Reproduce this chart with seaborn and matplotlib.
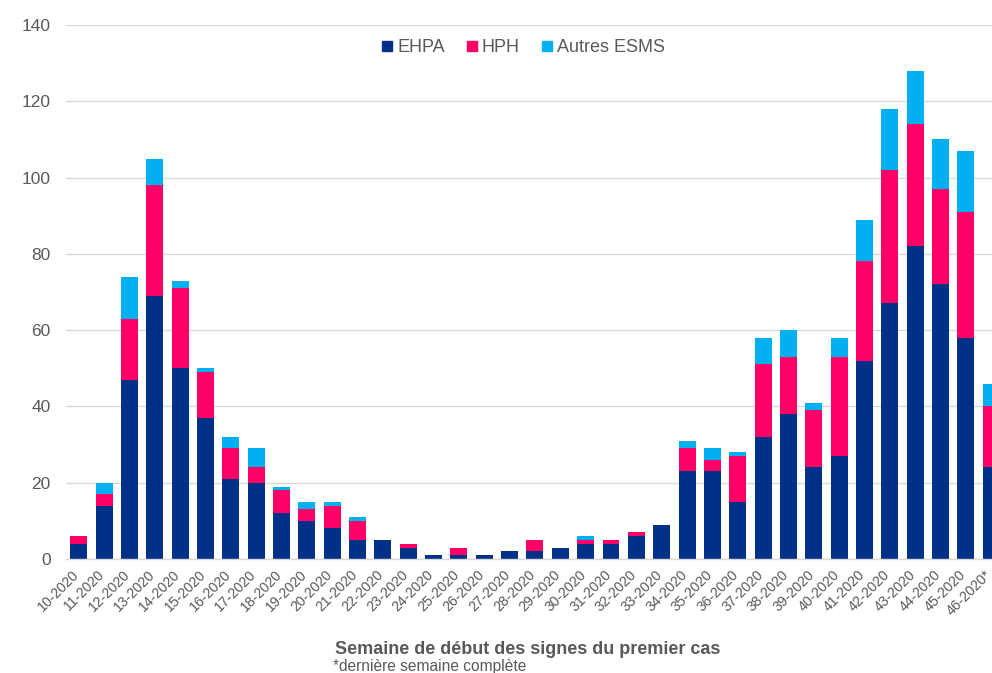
import matplotlib
matplotlib.use("Agg")
import matplotlib.pyplot as plt
import matplotlib.transforms as mtransforms
import seaborn as sns
import pandas as pd
import numpy as np
from matplotlib.lines import Line2D

weeks = [f"{w}-2020" for w in range(10, 46)] + ["46-2020*"]
ehpa = [4, 14, 47, 69, 50, 37, 21, 20, 12, 10, 8, 5, 5, 3, 1, 1, 1, 2, 2, 3,
        4, 4, 6, 9, 23, 23, 15, 32, 38, 24, 27, 52, 67, 82, 72, 58, 24]
hph = [2, 3, 16, 29, 21, 12, 8, 4, 6, 3, 6, 5, 0, 1, 0, 2, 0, 0, 3, 0,
       1, 1, 1, 0, 6, 3, 12, 19, 15, 15, 26, 26, 35, 32, 25, 33, 16]
autres = [0, 3, 11, 7, 2, 1, 3, 5, 1, 2, 1, 1, 0, 0, 0, 0, 0, 0, 0, 0,
          1, 0, 0, 0, 2, 3, 1, 7, 7, 2, 5, 11, 16, 14, 13, 16, 6]
series_names = ["EHPA", "HPH", "Autres ESMS"]
colors = ["#003087", "#FF0066", "#00B0F0"]

df = pd.DataFrame({"week": weeks, "EHPA": ehpa, "HPH": hph, "Autres ESMS": autres})
df["c1"] = df["EHPA"]
df["c2"] = df["EHPA"] + df["HPH"]
df["c3"] = df["c2"] + df["Autres ESMS"]

sns.set_theme(style="white")
plt.rcParams["font.family"] = ["Liberation Sans", "DejaVu Sans"]

fig = plt.figure(figsize=(9.92, 6.73), dpi=100)
ax = fig.add_axes([66 / 992, (673 - 559) / 673, 926 / 992, 534 / 673])

for col, c in zip(["c3", "c2", "c1"], colors[::-1]):
    sns.barplot(data=df, x="week", y=col, order=weeks, color=c, width=0.67,
                saturation=1, ax=ax, edgecolor="none", linewidth=0)

ax.set_xlim(-0.5, 36.03)
ax.set_ylim(0, 140)
ax.set_yticks(np.arange(0, 141, 20))
ax.yaxis.grid(True, color="#D9D9D9", linewidth=1)
ax.xaxis.grid(False)
ax.set_axisbelow(True)
for s in ["top", "right", "left"]:
    ax.spines[s].set_visible(False)
ax.spines["bottom"].set_color("#D9D9D9")
ax.spines["bottom"].set_linewidth(1)
ax.set_xlabel("")
ax.set_ylabel("")
ax.tick_params(axis="y", length=0, pad=11, labelsize=12.5, labelcolor="#595959")
ax.tick_params(axis="x", length=0, pad=6, labelsize=10.2, labelcolor="#595959")
ax.set_xticks(range(len(weeks)))
ax.set_xticklabels(weeks, rotation=45, ha="right", rotation_mode="anchor")
offset = mtransforms.ScaledTranslation(-7 / 100, 0, fig.dpi_scale_trans)
for lab in ax.get_xticklabels():
    lab.set_transform(lab.get_transform() + offset)

handles = [Line2D([0], [0], marker="s", linestyle="none", markersize=6.5,
                  markerfacecolor=c, markeredgecolor=c) for c in colors]
leg = fig.legend(handles, series_names, loc="center", ncol=3,
                 bbox_to_anchor=(523 / 992, 1 - 48 / 673), frameon=False,
                 fontsize=13, handletextpad=0.2, columnspacing=1.15,
                 handlelength=0.7)
for t in leg.get_texts():
    t.set_color("#595959")

fig.text(527.5 / 992, 1 - 650 / 673, "Semaine de début des signes du premier cas",
         ha="center", va="center", fontsize=13, fontweight="bold", color="#595959")
fig.text(333 / 992, 1 - 667 / 673, "*dernière semaine complète",
         ha="left", va="center", fontsize=11.2, color="#595959")

fig.savefig("out.png", dpi=100)
